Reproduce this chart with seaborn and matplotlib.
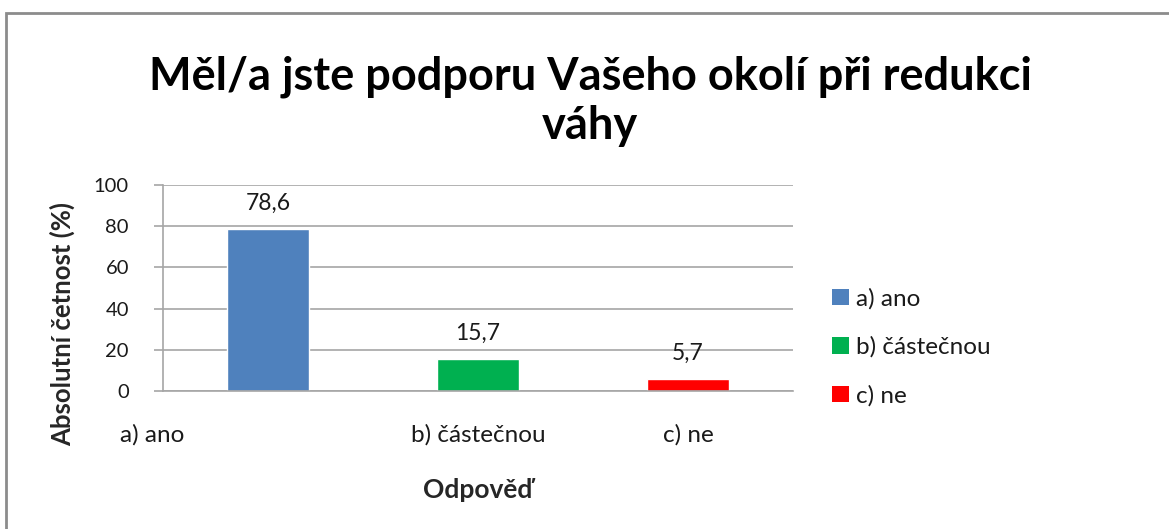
import matplotlib
matplotlib.use("Agg")
import matplotlib.pyplot as plt
import matplotlib.transforms as mtransforms
from matplotlib.patches import Patch, Rectangle
import seaborn as sns
import pandas as pd

# ---- data ----
categories = ["a) ano", "b) částečnou", "c) ne"]
values = [78.6, 15.7, 5.7]
colors = ["#4F81BD", "#00B050", "#FF0000"]
y_ticks = [0, 20, 40, 60, 80, 100]
title = "Měl/a jste podporu Vašeho okolí při redukci\nváhy"
y_label = "Absolutní četnost (%)"
x_label = "Odpověď"

sns.set_theme(style="white")
plt.rcParams["font.family"] = ["Lato", "DejaVu Sans"]

W, H = 1169, 529
fig = plt.figure(figsize=(W / 100, H / 100), dpi=100)

# outer chart frame
fig.patches.append(Rectangle((6 / W, -0.1), 1.2, (H - 13) / H + 0.1,
                             transform=fig.transFigure, fill=False,
                             edgecolor="#8c8c8c", linewidth=2.0))

ax_l, ax_r, ax_t, ax_b = 163, 793, 185, 391
ax = fig.add_axes([ax_l / W, (H - ax_b) / H, (ax_r - ax_l) / W, (ax_b - ax_t) / H])

df = pd.DataFrame({"cat": categories, "val": values})
sns.barplot(data=df, x="cat", y="val", hue="cat", palette=colors,
            dodge=False, width=0.39, legend=False, ax=ax, saturation=1)

ax.set_ylim(0, 100)
ax.set_yticks(y_ticks)
ax.set_xlim(-0.5, len(categories) - 0.5)
ax.yaxis.grid(True, color="#a6a6a6", linewidth=1.2)
ax.set_axisbelow(True)
for s in ["top", "right"]:
    ax.spines[s].set_visible(False)
for s in ["left", "bottom"]:
    ax.spines[s].set_color("#a6a6a6")
    ax.spines[s].set_linewidth(1.2)
ax.tick_params(axis="y", length=6.5, width=1.2, color="#a6a6a6", pad=18,
               labelsize=14.5, labelcolor="#1a1a1a", left=True)
ax.tick_params(axis="x", length=0, pad=24, labelsize=17.5, labelcolor="#1a1a1a")

# first category label sits further left, as in the reference
lbl0 = ax.get_xticklabels()[0]
lbl0.set_transform(lbl0.get_transform() +
                   mtransforms.ScaledTranslation(-116 / 100, 0, fig.dpi_scale_trans))

ax.set_xlabel(x_label, fontsize=19, fontweight="bold")
ax.xaxis.set_label_coords(0.5, (ax_b - 490) / (ax_b - ax_t), transform=ax.transAxes)
ax.xaxis.label.set_va("center")
ax.set_ylabel(y_label, fontsize=18.5, fontweight="bold")
ax.yaxis.set_label_coords((62 - ax_l) / (ax_r - ax_l), (ax_b - 324) / (ax_b - ax_t))
ax.yaxis.label.set_va("center")

for i, v in enumerate(values):
    ax.annotate(f"{v:.1f}".replace(".", ","), (i, v), xytext=(0, 18.5),
                textcoords="offset points", ha="center", va="center",
                fontsize=16.5, color="#1a1a1a")

fig.text(590 / W, (H - 101) / H, title, ha="center", va="center",
         fontsize=32.5, fontweight="bold", linespacing=1.22, color="black")

handles = [Patch(facecolor=c, edgecolor="none") for c in colors]
leg = fig.legend(handles, categories, loc="upper left",
                 bbox_to_anchor=(832 / W, (H - 288) / H),
                 bbox_transform=fig.transFigure, frameon=False, fontsize=17.5,
                 handlelength=0.68, handleheight=0.68, handletextpad=0.3,
                 labelspacing=1.11, borderpad=0, borderaxespad=0)
for t in leg.get_texts():
    t.set_color("#1a1a1a")

fig.savefig("out.png", dpi=100)
